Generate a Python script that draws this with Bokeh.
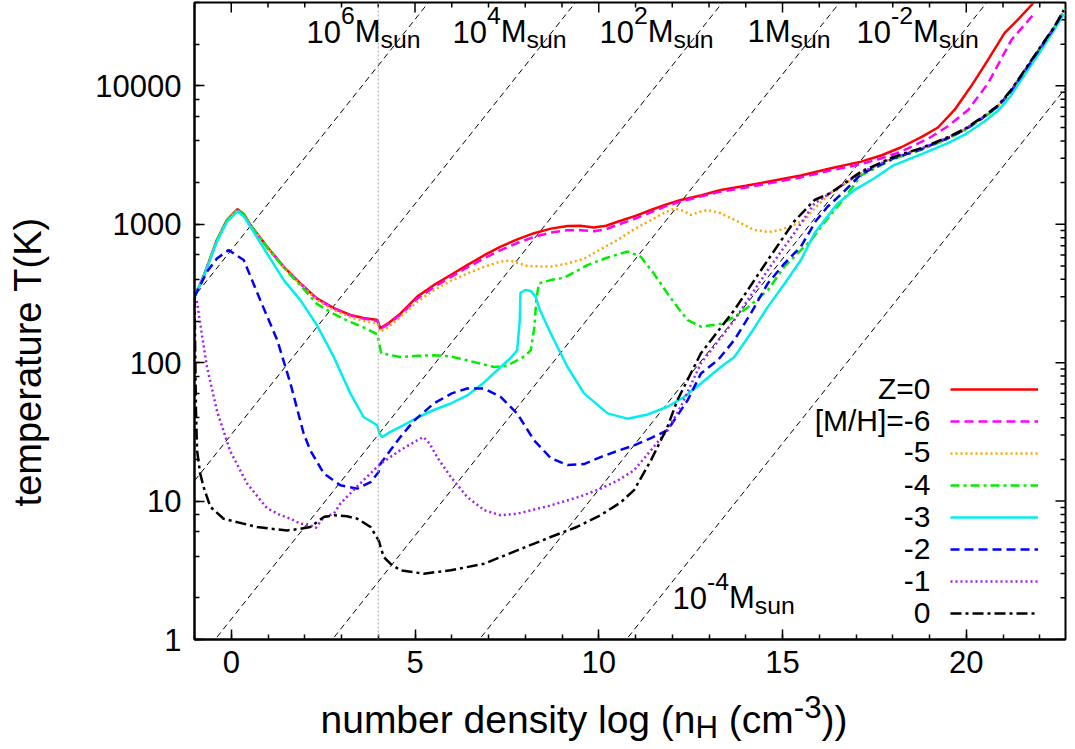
import math
from bokeh.plotting import figure
from bokeh.layouts import row, column
from bokeh.models import (Range1d, SingleIntervalTicker, LogTicker, NumeralTickFormatter, Span, Label,
                          Legend, LegendItem)
from bokeh.core.properties import value
from bokeh.embed import file_html
from bokeh.resources import INLINE

# ---------------- data ----------------
# x: log10 n_H [cm^-3], T: temperature [K]
z0_x = [-1.0, -0.76, -0.39, -0.12, 0.17, 0.35, 0.52, 0.97, 1.43, 1.88, 2.33, 2.79, 3.24, 3.6, 3.98, 4.05, 4.3, 4.6,
        5.06, 5.51, 5.97, 6.42, 6.9, 7.33, 7.8, 8.24, 8.7, 9.15, 9.5, 9.87, 10.2, 10.51, 11.0, 11.42, 11.8, 12.23,
        12.8, 13.32, 14.0, 14.7, 15.5, 16.32, 17.14, 17.7, 18.23, 18.8, 19.23, 19.68, 20.14, 20.59, 21.04, 21.45, 21.82]
z0_T = [300, 417, 769, 1071, 1285, 1180, 990, 690, 493, 374, 291, 248, 221, 210, 203, 177, 195, 226,
        300, 363, 430, 507, 600, 689, 780, 862, 930, 971, 975, 948, 975, 1042, 1150, 1268, 1380, 1497,
        1620, 1770, 1900, 2050, 2250, 2535, 2834, 3150, 3600, 4300, 5000, 6700, 10000, 15400, 24000, 31000, 39500]

m6_x = [-1.0, -0.76, -0.39, -0.12, 0.17, 0.35, 0.52, 0.97, 1.43, 1.88, 2.33, 2.79, 3.24, 3.6, 3.98, 4.05, 4.3, 4.6,
        5.06, 5.51, 5.97, 6.42, 6.9, 7.33, 7.8, 8.24, 8.7, 9.15, 9.5, 9.87, 10.2, 10.51, 11.0, 11.42, 11.8, 12.23,
        12.8, 13.32, 14.0, 14.7, 15.5, 16.32, 17.14, 17.7, 18.23, 18.96, 19.5, 20.05, 20.59, 21.23, 21.86]
m6_T = [300, 415, 765, 1065, 1275, 1172, 985, 686, 490, 372, 289, 246, 219, 208, 200, 175, 192, 221,
        290, 350, 415, 487, 570, 650, 735, 810, 870, 905, 905, 890, 920, 990, 1100, 1220, 1340, 1460,
        1590, 1720, 1840, 1990, 2180, 2450, 2720, 3000, 3350, 4150, 5100, 6700, 10400, 21500, 33500]

m5_x = [-1.0, -0.76, -0.39, -0.12, 0.17, 0.35, 0.52, 0.97, 1.43, 1.88, 2.33, 2.79, 3.24, 3.6, 3.98, 4.05, 4.3, 4.6,
        5.06, 5.51, 5.97, 6.42, 6.9, 7.33, 7.6, 8.06, 8.69, 9.15, 9.6, 10.05, 10.51, 10.96, 11.42, 11.75, 12.05,
        12.3, 12.5, 12.75, 12.96, 13.32, 13.8, 14.23, 14.6, 14.87, 15.2, 15.6, 15.87, 16.3, 17.14, 18.0, 18.77,
        19.5, 20.0, 20.5, 20.86, 21.2, 21.5, 22.0, 22.4, 22.65]
m5_T = [300, 415, 765, 1065, 1275, 1170, 983, 684, 487, 368, 285, 240, 213, 200, 192, 167, 182, 214,
        275, 334, 390, 440, 495, 537, 546, 499, 494, 520, 564, 660, 769, 920, 1071, 1200, 1300,
        1250, 1167, 1230, 1268, 1200, 1040, 908, 880, 900, 960, 1071, 1300, 1680, 2330, 3020, 3520,
        4230, 4930, 6050, 7150, 9100, 11900, 18700, 26700, 35000]

m4_x = [-1.0, -0.76, -0.39, -0.12, 0.17, 0.35, 0.52, 0.97, 1.43, 1.88, 2.33, 2.79, 3.24, 3.6, 3.98, 4.03, 4.08, 4.6,
        5.06, 5.51, 5.97, 6.42, 6.8, 7.15, 7.5, 7.78, 8.0, 8.15, 8.25, 8.3, 8.37, 8.69, 9.06, 9.69, 10.2, 10.78,
        11.14, 11.5, 11.87, 12.15, 12.42, 12.78, 13.32, 13.69, 14.05, 14.6, 15.05, 15.5, 15.78, 16.1, 16.6, 17.14,
        18.0, 18.77, 19.5, 20.0, 20.5, 20.86, 21.2, 21.5, 22.0, 22.4, 22.7]
m4_T = [300, 415, 765, 1065, 1275, 1170, 983, 684, 486, 362, 266, 225, 197, 180, 160, 135, 117, 110,
        112, 113, 111, 104, 98, 93, 95, 104, 112, 123, 182, 283, 374, 395, 411, 507, 570, 635,
        584, 440, 316, 250, 203, 182, 191, 214, 250, 334, 494, 650, 769, 1000, 1450, 2250,
        2950, 3450, 4150, 4850, 5950, 7050, 9000, 11800, 18500, 26500, 36000]

m3_x = [-1.0, -0.76, -0.39, -0.12, 0.17, 0.35, 0.52, 0.97, 1.43, 1.88, 2.33, 2.79, 3.24, 3.6, 3.97, 4.03, 4.1, 4.33,
        4.6, 5.06, 5.51, 5.97, 6.42, 6.88, 7.33, 7.6, 7.78, 7.85, 7.87, 8.0, 8.15, 8.28, 8.4, 8.69, 9.15, 9.6,
        10.24, 10.78, 11.3, 11.87, 12.3, 12.78, 13.32, 13.69, 14.15, 14.6, 15.05, 15.5, 15.87, 16.5, 16.96, 17.5,
        18.0, 18.77, 19.5, 20.0, 20.5, 20.86, 21.2, 21.5, 22.0, 22.4, 22.65]
m3_T = [300, 410, 750, 1040, 1240, 1130, 960, 617, 395, 283, 187, 110, 60, 40.5, 35.3, 31, 29, 31.6,
        34.4, 40, 45.5, 50.7, 58, 72, 93, 108, 123, 200, 320, 335, 330, 300, 240, 163, 93, 60,
        43, 39.4, 42, 48, 56, 70.8, 93, 110, 165, 253, 370, 551, 861, 1415, 1770, 2150,
        2650, 3200, 3850, 4500, 5550, 6600, 8400, 11100, 17500, 25500, 33000]

m2_x = [-1.0, -0.66, -0.39, -0.07, 0.34, 0.79, 1.25, 1.61, 1.97, 2.15, 2.52, 2.97, 3.43, 3.79, 4.01, 4.06, 4.33,
        4.6, 4.97, 5.51, 6.0, 6.42, 6.88, 7.33, 7.78, 8.24, 8.69, 9.15, 9.6, 10.05, 10.5, 10.96, 11.42, 11.87,
        12.42, 12.78, 13.25, 13.69, 14.15, 14.6, 15.05, 15.5, 15.9, 16.23, 16.6, 17.14, 18.0, 18.77, 19.5, 20.0,
        20.5, 20.86, 21.2, 21.5, 22.0, 22.4, 22.65]
m2_T = [300, 454, 566, 651, 551, 283, 146, 70.8, 30.8, 23.3, 15.8, 13, 12.3, 13.7, 16.2, 18.6, 23.3,
        29, 38, 50.7, 60, 65, 65, 56.6, 42.9, 27.5, 20.5, 18.2, 18.5, 20.8, 23, 25.3, 28.5, 32.5,
        53.6, 83.6, 105, 146, 230, 374, 520, 689, 1050, 1343, 1650, 2300, 2980, 3480, 4180, 4880,
        6000, 7100, 9000, 11800, 18500, 26500, 34500]

m1_x = [-1.0, -0.94, -0.8, -0.66, -0.39, -0.03, 0.43, 0.97, 1.3, 1.61, 1.88, 2.15, 2.3, 2.52, 2.79, 2.97, 3.43,
        4.06, 4.6, 5.06, 5.23, 5.4, 5.6, 5.97, 6.42, 6.88, 7.33, 7.78, 8.69, 9.5, 10.05, 10.5, 10.96, 11.42,
        11.87, 12.23, 12.78, 13.69, 14.6, 15.32, 15.87, 16.3, 17.14, 18.0, 18.77, 19.5, 20.0, 20.5, 20.86, 21.2,
        21.5, 22.0, 22.4, 22.65]
m1_T = [300, 283, 160, 93, 45, 23, 13.4, 8.9, 8.0, 7.46, 6.87, 6.7, 6.4, 7.67, 8.1, 9.6, 12.8,
        18.6, 23.3, 27.5, 29, 26, 20.8, 15, 10.7, 8.6, 7.9, 8.1, 9.3, 10.8, 12.3, 14, 16.7, 23.3,
        32.5, 48, 99, 203, 467, 862, 1415, 1680, 2360, 3020, 3520, 4230, 4930, 6050, 7150, 9100,
        11900, 18700, 26700, 35000]

m0_x = [-1.0, -0.98, -0.96, -0.93, -0.85, -0.75, -0.57, -0.21, 0.3, 0.7, 1.1, 1.52, 1.88, 2.15, 2.52, 2.8, 3.15,
        3.43, 3.79, 4.01, 4.15, 4.33, 4.6, 5.24, 5.97, 6.88, 7.78, 8.69, 9.4, 10.05, 10.6, 10.96, 11.42, 11.87,
        12.14, 12.78, 13.69, 14.6, 15.32, 15.87, 16.3, 17.14, 18.0, 18.77, 19.5, 20.0, 20.5, 20.86, 21.2, 21.5,
        22.0, 22.4, 22.65]
m0_T = [300, 120, 45, 23.3, 16, 12.6, 9.1, 7.46, 6.9, 6.5, 6.3, 6.14, 6.3, 6.5, 7.67, 7.9, 7.76,
        7.46, 6.5, 5.2, 3.94, 3.53, 3.16, 2.99, 3.16, 3.53, 4.4, 5.5, 6.5, 7.9, 9.8, 12, 19.7, 34.4,
        53.6, 117, 240, 551, 1050, 1497, 1680, 2400, 3050, 3550, 4250, 4950, 6100, 7200, 9200, 12000,
        18800, 26800, 35200]

series_labels = ["Z=0", "[M/H]=-6", "-5", "-4", "-3", "-2", "-1", "0"]

# Jeans-mass reference lines: log10(M/Msun) and the log n_H where each line has T = 1 K
jeans_log_mass = [6, 4, 2, 0, -2, -4]
jeans_x_at_T1 = [-8.44, -4.44, -0.44, 2.75, 6.75, 10.75]

# axis ticks
x_major_ticks = [0, 5, 10, 15, 20]
x_minor_ticks = [v for v in range(-1, 23) if v % 5 != 0]
y_major_ticks = [1, 10, 100, 1000, 10000]
y_minor_ticks = [m * 10 ** d for d in range(0, 5) for m in range(2, 10) if m * 10 ** d <= 40000]

# ---------------- styling / layout ----------------
FONT = "Liberation Sans"
X0, X1 = -1.0, 22.7
Y0, Y1 = 1.0, 40000.0
REF_L, REF_R, REF_T, REF_B = 194.0, 1065.0, 2.0, 639.0   # reference frame edges (px)
PX_PER_X = (REF_R - REF_L) / (X1 - X0)
PX_PER_DEC = (REF_B - REF_T) / math.log10(Y1)
YLAB_W = 60            # width of the strip holding the y title
MAIN_H = 688           # height of the main plot canvas
XLAB_H = 57            # height of the strip holding the x title
TOTAL_W = 1068
BASE_FIX = 11          # measured shift of rendered alphabetic baselines (px)

def rx(px):
    return X0 + (px - REF_L) / PX_PER_X

def ry(py):
    return 10 ** ((REF_B - py) / PX_PER_DEC)

colors = ["#ff0000", "#ff00ff", "#ffa500", "#00ee00", "#00eeee", "#0000ff", "#a020f0", "#000000"]
dashes = ["solid", "9 5", "2 3", "9 4 3 4", "solid", "9 5", "2 3", "11 4 3 4"]

main_w = TOTAL_W - YLAB_W
p = figure(width=main_w, height=MAIN_H, x_range=Range1d(X0, X1), y_range=Range1d(Y0, Y1),
           y_axis_type="log", output_backend="svg", toolbar_location=None,
           min_border_left=int(REF_L - YLAB_W), min_border_right=int(TOTAL_W - REF_R),
           min_border_top=int(REF_T), min_border_bottom=int(MAIN_H - REF_B))
p.xgrid.visible = False
p.ygrid.visible = False
p.outline_line_color = "black"
p.outline_line_width = 2
p.background_fill_color = "white"
p.border_fill_color = "white"

p.xaxis.ticker = SingleIntervalTicker(interval=5, num_minor_ticks=5)
p.yaxis.ticker = LogTicker()
p.yaxis.formatter = NumeralTickFormatter(format="0")
for ax in (p.xaxis[0], p.yaxis[0]):
    ax.axis_line_color = "black"
    ax.axis_line_width = 2
    ax.major_tick_line_color = "black"
    ax.minor_tick_line_color = "black"
    ax.major_tick_line_width = 1.5
    ax.minor_tick_line_width = 1.5
    ax.major_tick_in = 10
    ax.major_tick_out = 0
    ax.minor_tick_in = 5
    ax.minor_tick_out = 0
    ax.major_label_text_font = FONT
    ax.major_label_text_font_size = "31px"
    ax.major_label_text_color = "black"
p.xaxis.major_label_standoff = 11
p.yaxis.major_label_standoff = 13

# mirrored ticks on the top and right edges (inward)
tick_major_px, tick_minor_px = 10, 5
for ticks, L in ((x_major_ticks, tick_major_px), (x_minor_ticks, tick_minor_px)):
    p.segment(x0=ticks, y0=[Y1] * len(ticks), x1=ticks, y1=[Y1 / 10 ** (L / PX_PER_DEC)] * len(ticks),
              line_color="black", line_width=1.5)
for ticks, L in ((y_major_ticks, tick_major_px), (y_minor_ticks, tick_minor_px)):
    p.segment(x0=[X1] * len(ticks), y0=ticks, x1=[X1 - L / PX_PER_X] * len(ticks), y1=ticks,
              line_color="black", line_width=1.5)

# Jeans mass lines
ext = 3 * math.log10(Y1) + 3
p.segment(x0=[x - 3 for x in jeans_x_at_T1], y0=[0.1] * len(jeans_x_at_T1),
          x1=[x + ext for x in jeans_x_at_T1], y1=[10 ** (ext / 3.0)] * len(jeans_x_at_T1),
          line_color="black", line_width=1, line_dash="6 4")

p.add_layout(Span(location=4, dimension="height", line_color="#aaaaaa", line_width=1, line_dash="2 2"))

all_x = [z0_x, m6_x, m5_x, m4_x, m3_x, m2_x, m1_x, m0_x]
all_T = [z0_T, m6_T, m5_T, m4_T, m3_T, m2_T, m1_T, m0_T]
renderers = []
for xs, ts, c, d in zip(all_x, all_T, colors, dashes):
    r = p.line(xs, ts, line_color=c, line_width=2.5, line_dash=d)
    renderers.append(r)

legend = Legend(items=[LegendItem(label=value(" "), renderers=[r]) for r in renderers],
                location=(756, 10), orientation="vertical", glyph_width=88, glyph_height=32,
                label_height=32, label_width=4, label_standoff=0, spacing=0, padding=0, margin=0,
                border_line_color=None, background_fill_alpha=0.0,
                label_text_font_size="8px")
p.add_layout(legend, "center")

# legend texts (right aligned)
legend_text_right = 930
legend_rows_py = [387.7, 420, 451.7, 484.3, 516, 548.3, 580.4, 612.7]
for lab, py in zip(series_labels, legend_rows_py):
    p.add_layout(Label(x=rx(legend_text_right), y=ry(py + 11 - BASE_FIX), text=lab, text_font=FONT,
                       text_font_size="30px", text_align="right", text_baseline="alphabetic",
                       text_color="black"))

# rich-text helper (Arial / Liberation Sans advance widths, em units)
W = {"0": .556, "1": .556, "2": .556, "3": .556, "4": .556, "5": .556, "6": .556, "-": .333, "M": .833,
     "s": .5, "u": .556, "n": .556, "H": .722, " ": .278, "\u00a0": .278, "(": .333, ")": .333, "c": .5,
     "m": .833, "b": .556, "e": .556, "r": .333, "d": .556, "i": .222, "t": .278, "y": .5, "l": .222,
     "o": .556, "g": .556}

def rich(fig, pieces, x, y, size, sup_rise, sub_drop):
    off = 0.0
    for txt, kind in pieces:
        fs = size if kind == "n" else size * 0.8
        dy = 0 if kind == "n" else (sup_rise if kind == "sup" else -sub_drop)
        fig.add_layout(Label(x=x, y=y, x_offset=off, y_offset=dy, text=txt,
                             text_font=FONT, text_font_size="%.1fpx" % fs, text_align="left",
                             text_baseline="alphabetic", text_color="black"))
        off += sum(W.get(ch, .556) for ch in txt) * fs

mass_label_pos = [(306, 42), (452, 42), (599, 42), (747, 42), (856, 42), (672, 608)]
for lm, (lx, ly) in zip(jeans_log_mass, mass_label_pos):
    if lm == 0:
        pieces = [("1M", "n"), ("sun", "sub")]
    else:
        pieces = [("10", "n"), (str(lm), "sup"), ("M", "n"), ("sun", "sub")]
    rich(p, pieces, rx(lx), ry(ly - BASE_FIX), 31, 16, 8)

# y title strip (pixel coordinates)
p_y = figure(width=YLAB_W, height=MAIN_H, x_range=Range1d(0, YLAB_W), y_range=Range1d(0, MAIN_H),
             output_backend="svg", toolbar_location=None, x_axis_location=None, y_axis_location=None,
             min_border=0, outline_line_color=None)
p_y.grid.visible = False
p_y.add_layout(Label(x=27, y=MAIN_H - 388, text="temperature T(K)", text_font=FONT, text_font_size="38px",
                     text_align="center", text_baseline="middle", angle=math.pi / 2, text_color="black"))

# x title strip (pixel coordinates)
p_x = figure(width=TOTAL_W, height=XLAB_H, x_range=Range1d(0, TOTAL_W), y_range=Range1d(0, XLAB_H),
             output_backend="svg", toolbar_location=None, x_axis_location=None, y_axis_location=None,
             min_border=0, outline_line_color=None)
p_x.grid.visible = False
rich(p_x, [("number density log (n", "n"), ("H", "sub"), ("\u00a0(cm", "n"), ("-3", "sup"), ("))", "n")],
     320, MAIN_H + XLAB_H - (730 - BASE_FIX), 39, 13, 8)

layout = column(row(p_y, p), p_x)
open("out.html", "w").write(file_html(layout, INLINE))
